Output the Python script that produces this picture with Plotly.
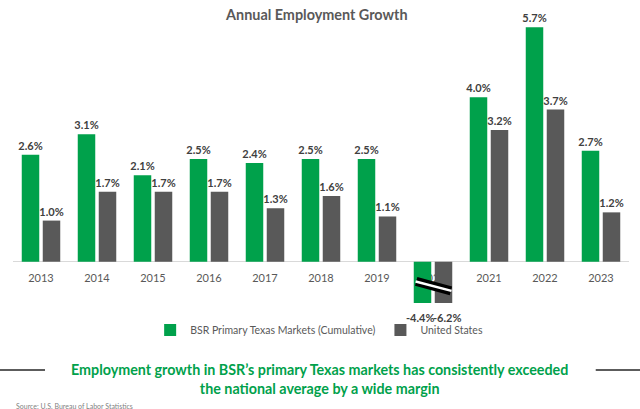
import plotly.graph_objects as go

years = ["2013", "2014", "2015", "2016", "2017", "2018", "2019", "2020", "2021", "2022", "2023"]
texas = [2.6, 3.1, 2.1, 2.5, 2.4, 2.5, 2.5, -4.4, 4.0, 5.7, 2.7]
us = [1.0, 1.7, 1.7, 1.7, 1.3, 1.6, 1.1, -6.2, 3.2, 3.7, 1.2]
series_names = ["BSR Primary Texas Markets (Cumulative)", "United States"]
break_year = "2020"

GREEN = "#00A14B"
GRAY = "#595959"
LABEL = "#404040"
FONT = "Lato"

YMIN, YMAX = -1.004, 6.121


def labels(vals, yrs):
    return ["" if y == break_year else f"{v:.1f}%" for v, y in zip(vals, yrs)]


fig = go.Figure()
fig.add_trace(go.Bar(
    x=years, y=texas, name=series_names[0], marker=dict(color=GREEN, line=dict(width=0)),
    text=labels(texas, years), textposition="outside", cliponaxis=False,
    textfont=dict(family=FONT, size=11, color=LABEL, weight="bold"), constraintext="none",
))
fig.add_trace(go.Bar(
    x=years, y=us, name=series_names[1], marker=dict(color=GRAY, line=dict(width=0)),
    text=labels(us, years), textposition="outside", cliponaxis=False,
    textfont=dict(family=FONT, size=11, color=LABEL, weight="bold"), constraintext="none",
))

bi = years.index(break_year)
# clipped-bar labels
fig.add_annotation(x=bi, y=YMIN, xref="x", yref="y", text=f"{texas[bi]:.1f}%", showarrow=False,
                   xshift=-13, yshift=-6, yanchor="top",
                   font=dict(family=FONT, size=11, color=LABEL, weight="bold"))
fig.add_annotation(x=bi, y=YMIN, xref="x", yref="y", text=f"{us[bi]:.1f}%", showarrow=False,
                   xshift=14, yshift=-6, yanchor="top",
                   font=dict(family=FONT, size=11, color=LABEL, weight="bold"))
# axis-break symbol
fig.add_shape(type="line", xref="x", yref="y", x0=bi - 0.30, x1=bi + 0.32, y0=-0.48, y1=-0.71,
              line=dict(color="black", width=9))
fig.add_shape(type="line", xref="x", yref="y", x0=bi - 0.31, x1=bi + 0.33, y0=-0.48, y1=-0.71,
              line=dict(color="white", width=2.5))

# subtitle and decorative rules
fig.add_annotation(x=0.497, y=-0.259, xref="paper", yref="paper",
                   text="Employment growth in BSR’s primary Texas markets has consistently exceeded<br>the national average by a wide margin",
                   showarrow=False, yanchor="middle",
                   font=dict(family=FONT, size=14.3, color="#00A14B", weight="bold"))
fig.add_shape(type="line", xref="paper", yref="paper", x0=-0.0211, x1=0.052, y0=-0.2287, y1=-0.2287,
              line=dict(color="#262626", width=1.5))
fig.add_shape(type="line", xref="paper", yref="paper", x0=0.946, x1=1.0179, y0=-0.2287, y1=-0.2287,
              line=dict(color="#262626", width=1.5))
fig.add_annotation(x=0.0016, y=-0.352, xref="paper", yref="paper", xanchor="left", yanchor="middle",
                   text="Source: U.S. Bureau of Labor Statistics", showarrow=False,
                   font=dict(family=FONT, size=7, color="#7f7f7f"))

fig.update_layout(
    width=640, height=409,
    margin=dict(l=13, r=11, t=10, b=106, autoexpand=False),
    plot_bgcolor="white", paper_bgcolor="white",
    barmode="group", bargap=0.25, bargroupgap=0.167,
    title=dict(text="Annual Employment Growth", x=0.495, xref="container", xanchor="center",
               y=1 - 15 / 409, yref="container", yanchor="middle",
               font=dict(family=FONT, size=14.4, color=GRAY, weight="bold")),
    font=dict(family=FONT, color=GRAY),
    showlegend=True,
    legend=dict(orientation="h", x=0.497, xanchor="center", y=1 - 330 / 409, yref="container",
                yanchor="middle", font=dict(family=FONT, size=10.5, color=GRAY),
                itemwidth=30, traceorder="normal"),
    xaxis=dict(type="category", anchor="free", position=(0 - YMIN) / (YMAX - YMIN),
               layer="below traces", showline=False, showgrid=False,
               ticks="outside", ticklen=6, tickcolor="rgba(0,0,0,0)",
               tickfont=dict(family=FONT, size=11, color=GRAY)),
    yaxis=dict(range=[YMIN, YMAX], showgrid=False, showticklabels=False, zeroline=True,
               zerolinecolor="#d9d9d9", zerolinewidth=1),
)

fig.write_html("out.html", config={"displayModeBar": False},
               post_script="document.body.style.margin='0';document.body.style.overflow='hidden';")
